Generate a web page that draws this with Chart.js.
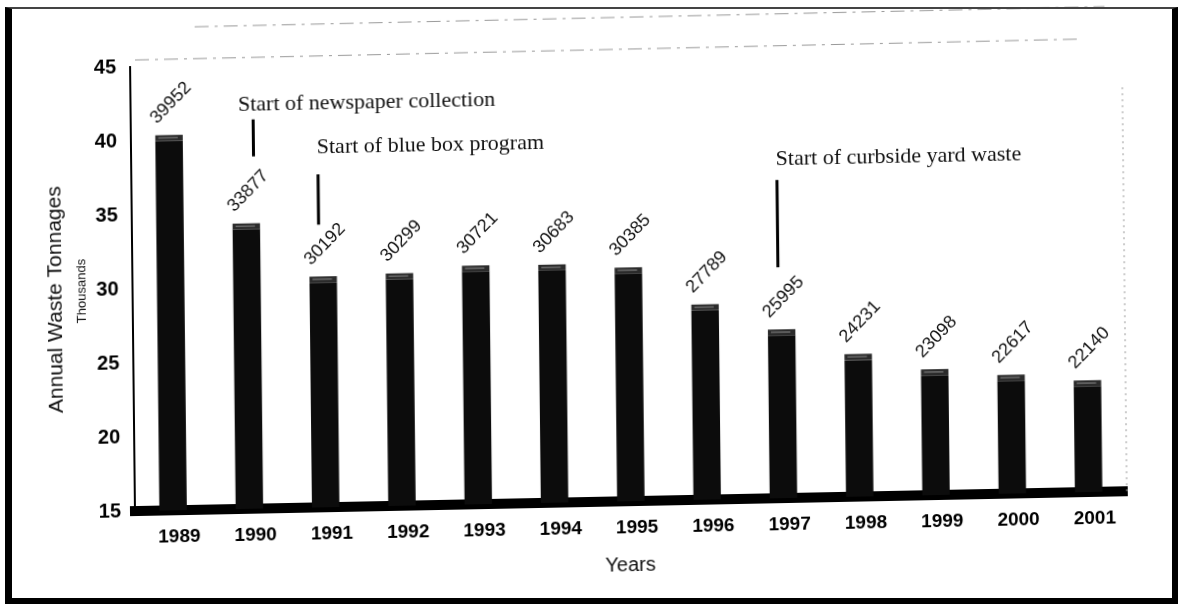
<!DOCTYPE html>
<html>
<head>
<meta charset="utf-8">
<script src="https://cdn.jsdelivr.net/npm/chart.js@4.4.1/dist/chart.umd.min.js"></script>
<style>
  html, body { margin: 0; padding: 0; background: #fff; }
  #wrap { position: relative; width: 1184px; height: 615px; overflow: hidden; background: #fff; }
  /* the scanned original is a little skewed */
  #chart { position: absolute; left: 0; top: 0; transform: matrix(1, -0.02, 0.011, 1, 0, 0); transform-origin: 140px 511px; }
  #frame {
    position: absolute; left: 5px; top: 7px; width: 1173px; height: 597px; box-sizing: border-box;
    border-left: 7px solid #000; border-right: 6px solid #000; border-bottom: 6px solid #000;
    border-top: 2px solid #444; pointer-events: none;
  }
</style>
</head>
<body>
<div id="wrap">
  <canvas id="chart" width="1184" height="615"></canvas>
  <div id="frame"></div>
</div>
<script>
const years = ['1989', '1990', '1991', '1992', '1993', '1994', '1995', '1996', '1997', '1998', '1999', '2000', '2001'];
const tonnages = [39952, 33877, 30192, 30299, 30721, 30683, 30385, 27789, 25995, 24231, 23098, 22617, 22140];
const yTicks = [15, 20, 25, 30, 35, 40, 45];

const noteYears = ['1990', '1991', '1997'];
const noteTexts = ['Start of newspaper collection', 'Start of blue box program', 'Start of curbside yard waste'];

// where the notes sit: text baseline and marker ends in thousands, x nudges in px
const notePlacement = {
  textAt: [41.9, 38.9, 37.5],
  lineTop: [41.3, 37.5, 36.5],
  lineBottom: [38.8, 34.1, 30.6],
  lineDx: [8, -4, -3],
  textDx: [-15, -1, -1]
};

const SANS = 'Arial, "Liberation Sans", sans-serif';

const extras = {
  id: 'extras',
  afterDatasetsDraw(chart) {
    // 3d-ish top face on each bar
    const ctx = chart.ctx;
    ctx.save();
    chart.getDatasetMeta(0).data.forEach(bar => {
      const w = bar.width;
      ctx.fillStyle = '#2b2b2b';
      ctx.fillRect(bar.x - w / 2, bar.y - 6, w, 6);
      ctx.fillStyle = '#6a6a6a';
      ctx.fillRect(bar.x - w / 2 + 3, bar.y - 4, w - 8, 1.5);
    });
    ctx.restore();
  },
  afterDraw(chart) {
    const ctx = chart.ctx;
    const x = chart.scales.x, y = chart.scales.y;
    const area = chart.chartArea;
    const meta = chart.getDatasetMeta(0);

    ctx.save();
    ctx.fillStyle = '#111';

    // value labels, rotated
    ctx.font = '18px ' + SANS;
    ctx.textAlign = 'left';
    ctx.textBaseline = 'alphabetic';
    meta.data.forEach((bar, i) => {
      ctx.save();
      ctx.translate(bar.x - 12, bar.y - 17);
      ctx.rotate(-Math.PI / 4);
      ctx.fillText(String(tonnages[i]), 0, 0);
      ctx.restore();
    });

    // notes
    ctx.font = '22px "Liberation Serif", "Times New Roman", serif';
    noteYears.forEach((yr, i) => {
      const cx = x.getPixelForValue(years.indexOf(yr));
      const lx = cx + notePlacement.lineDx[i];
      ctx.strokeStyle = '#000';
      ctx.lineWidth = 3;
      ctx.beginPath();
      ctx.moveTo(lx, y.getPixelForValue(notePlacement.lineTop[i]));
      ctx.lineTo(lx, y.getPixelForValue(notePlacement.lineBottom[i]));
      ctx.stroke();
      ctx.fillText(noteTexts[i], lx + notePlacement.textDx[i], y.getPixelForValue(notePlacement.textAt[i]));
    });

    // axis titles
    ctx.textAlign = 'center';
    ctx.textBaseline = 'middle';
    ctx.save();
    ctx.translate(58, 298);
    ctx.rotate(-Math.PI / 2);
    ctx.font = '21px ' + SANS;
    ctx.fillText('Annual Waste Tonnages', 0, 0);
    ctx.restore();

    ctx.save();
    ctx.translate(84, 290);
    ctx.rotate(-Math.PI / 2);
    ctx.font = '13px ' + SANS;
    ctx.fillText('Thousands', 0, 0);
    ctx.restore();

    ctx.font = '20px ' + SANS;
    ctx.fillText('Years', (area.left + area.right) / 2 - 1, 575);

    // dotted right wall
    ctx.strokeStyle = '#999';
    ctx.lineWidth = 1;
    ctx.setLineDash([2, 4]);
    ctx.beginPath();
    ctx.moveTo(area.right, area.top + 40);
    ctx.lineTo(area.right, area.bottom);
    ctx.stroke();
    // faint top edges of the back wall
    ctx.setLineDash([14, 6, 3, 6]);
    ctx.beginPath();
    ctx.moveTo(area.left + 5, area.top - 7);
    ctx.lineTo(area.right - 40, area.top - 9);
    ctx.moveTo(200, 28);
    ctx.lineTo(1110, 26);
    ctx.stroke();
    ctx.restore();
  }
};

new Chart(document.getElementById('chart'), {
  type: 'bar',
  data: {
    labels: years,
    datasets: [{
      data: tonnages.map(v => v / 1000),
      backgroundColor: '#0c0c0c',
      borderWidth: 0,
      barPercentage: 0.36,
      categoryPercentage: 1.0
    }]
  },
  options: {
    responsive: false,
    animation: false,
    layout: { padding: { top: 67, left: 45, right: 57, bottom: 14 } },
    plugins: { legend: { display: false }, tooltip: { enabled: false } },
    scales: {
      x: {
        grid: { display: false },
        border: { display: true, color: '#000', width: 10 },
        ticks: {
          color: '#000',
          padding: 7,
          labelOffset: 6,
          maxRotation: 0,
          font: { family: SANS, size: 19, weight: 'bold' }
        },
        afterFit(scale) { scale.height = 90; }
      },
      y: {
        min: 15,
        max: 45,
        afterBuildTicks(scale) { scale.ticks = yTicks.map(v => ({ value: v })); },
        grid: { display: false },
        border: { display: true, color: '#000', width: 2 },
        ticks: {
          color: '#000',
          padding: 6,
          font: { family: SANS, size: 20, weight: 'bold' }
        },
        afterFit(scale) { scale.width = 90; }
      }
    }
  },
  plugins: [extras]
});
</script>
</body>
</html>
